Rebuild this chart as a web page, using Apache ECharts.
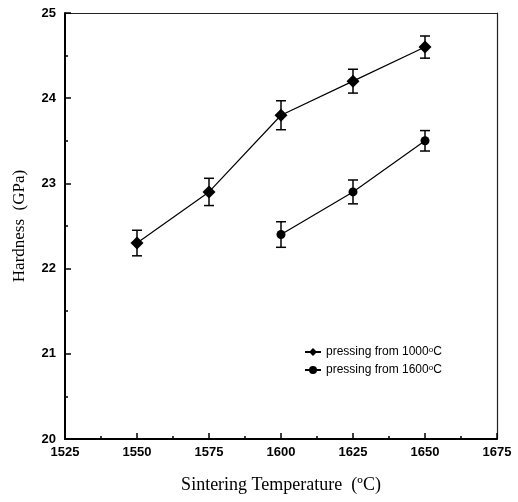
<!DOCTYPE html>
<html>
<head>
<meta charset="utf-8">
<script src="https://cdn.jsdelivr.net/npm/echarts@6/dist/echarts.min.js"></script>
<style>
html, body { margin: 0; padding: 0; background: #fff; }
#main { width: 518px; height: 502px; }
</style>
</head>
<body>
<div id="main"></div>
<script>
var temps1 = [1550, 1575, 1600, 1625, 1650];
var hard1 = [22.3, 22.9, 23.8, 24.2, 24.6];
var err1 = [0.15, 0.16, 0.17, 0.14, 0.13];

var temps2 = [1600, 1625, 1650];
var hard2 = [22.4, 22.9, 23.5];
var err2 = [0.15, 0.14, 0.12];

var names = ['pressing from 1000', 'pressing from 1600'];

function pairs(xs, ys) {
    return xs.map(function (x, i) { return [x, ys[i]]; });
}
function errData(xs, ys, es) {
    return xs.map(function (x, i) { return [x, ys[i] - es[i], ys[i] + es[i]]; });
}

function renderErr(params, api) {
    var lo = api.coord([api.value(0), api.value(1)]);
    var hi = api.coord([api.value(0), api.value(2)]);
    var w = 5;
    var st = { stroke: '#000', lineWidth: 1.5 };
    return {
        type: 'group',
        children: [
            { type: 'line', shape: { x1: lo[0], y1: lo[1], x2: hi[0], y2: hi[1] }, style: st },
            { type: 'line', shape: { x1: lo[0] - w, y1: lo[1], x2: lo[0] + w, y2: lo[1] }, style: st },
            { type: 'line', shape: { x1: hi[0] - w, y1: hi[1], x2: hi[0] + w, y2: hi[1] }, style: st }
        ]
    };
}

var tickFont = { color: '#000', fontFamily: 'Liberation Sans', fontWeight: 'bold', fontSize: 13 };

var chart = echarts.init(document.getElementById('main'));
chart.setOption({
    animation: false,
    backgroundColor: '#fff',
    grid: { left: 65, top: 13, right: 21, bottom: 63, outerBoundsMode: 'none', containLabel: false },
    legend: {
        orient: 'vertical',
        left: 299,
        top: 341,
        itemWidth: 16,
        itemHeight: 10,
        itemGap: 6,
        data: names,
        formatter: function (n) { return '{a|' + n + '}{s|o}{a|C}'; },
        textStyle: {
            rich: {
                a: { fontFamily: 'Liberation Sans', fontSize: 12, color: '#000' },
                s: { fontFamily: 'Liberation Sans', fontSize: 8, color: '#000', verticalAlign: 'top', padding: [0, 0, 4, 0] }
            }
        }
    },
    xAxis: [{
        type: 'value',
        min: 1525, max: 1675, interval: 25,
        name: 'Sintering Temperature  (\u00BAC)',
        nameLocation: 'middle',
        nameGap: 37,
        nameTextStyle: { fontFamily: 'Liberation Serif', fontSize: 18, color: '#000' },
        axisLine: { lineStyle: { color: '#000', width: 2 } },
        axisTick: { inside: true, length: 6, lineStyle: { color: '#000', width: 1.5 } },
        minorTick: { show: true, splitNumber: 2, length: 3, lineStyle: { color: '#000', width: 1.5 } },
        axisLabel: Object.assign({ margin: 7, formatter: function (v) { return String(v); } }, tickFont),
        splitLine: { show: false }
    }, {
        type: 'value', position: 'top',
        min: 1525, max: 1675, interval: 25,
        axisLine: { show: true, lineStyle: { color: '#222', width: 1.2 } },
        axisTick: { show: false },
        axisLabel: { show: false },
        splitLine: { show: false }
    }],
    yAxis: [{
        type: 'value',
        min: 20, max: 25, interval: 1,
        name: 'Hardness  (GPa)',
        nameLocation: 'middle',
        nameGap: 37,
        nameTextStyle: { fontFamily: 'Liberation Serif', fontSize: 17, color: '#000' },
        axisLine: { show: true, lineStyle: { color: '#000', width: 2 } },
        axisTick: { show: true, inside: true, length: 6, lineStyle: { color: '#000', width: 1.5 } },
        minorTick: { show: true, splitNumber: 2, length: 3, lineStyle: { color: '#000', width: 1.5 } },
        axisLabel: Object.assign({ margin: 9 }, tickFont),
        splitLine: { show: false }
    }, {
        type: 'value', position: 'right',
        min: 20, max: 25, interval: 1,
        axisLine: { show: true, lineStyle: { color: '#222', width: 1.2 } },
        axisTick: { show: false },
        axisLabel: { show: false },
        splitLine: { show: false }
    }],
    series: [{
        name: names[0],
        type: 'line',
        data: pairs(temps1, hard1),
        symbol: 'diamond',
        symbolSize: 13,
        itemStyle: { color: '#000' },
        lineStyle: { color: '#000', width: 1.2 },
        z: 3
    }, {
        name: names[1],
        type: 'line',
        data: pairs(temps2, hard2),
        symbol: 'circle',
        symbolSize: 9,
        itemStyle: { color: '#000' },
        lineStyle: { color: '#000', width: 1.2 },
        z: 3
    }, {
        type: 'custom',
        renderItem: renderErr,
        data: errData(temps1, hard1, err1),
        encode: { x: 0, y: [1, 2] },
        z: 2
    }, {
        type: 'custom',
        renderItem: renderErr,
        data: errData(temps2, hard2, err2),
        encode: { x: 0, y: [1, 2] },
        z: 2
    }]
});
</script>
</body>
</html>
